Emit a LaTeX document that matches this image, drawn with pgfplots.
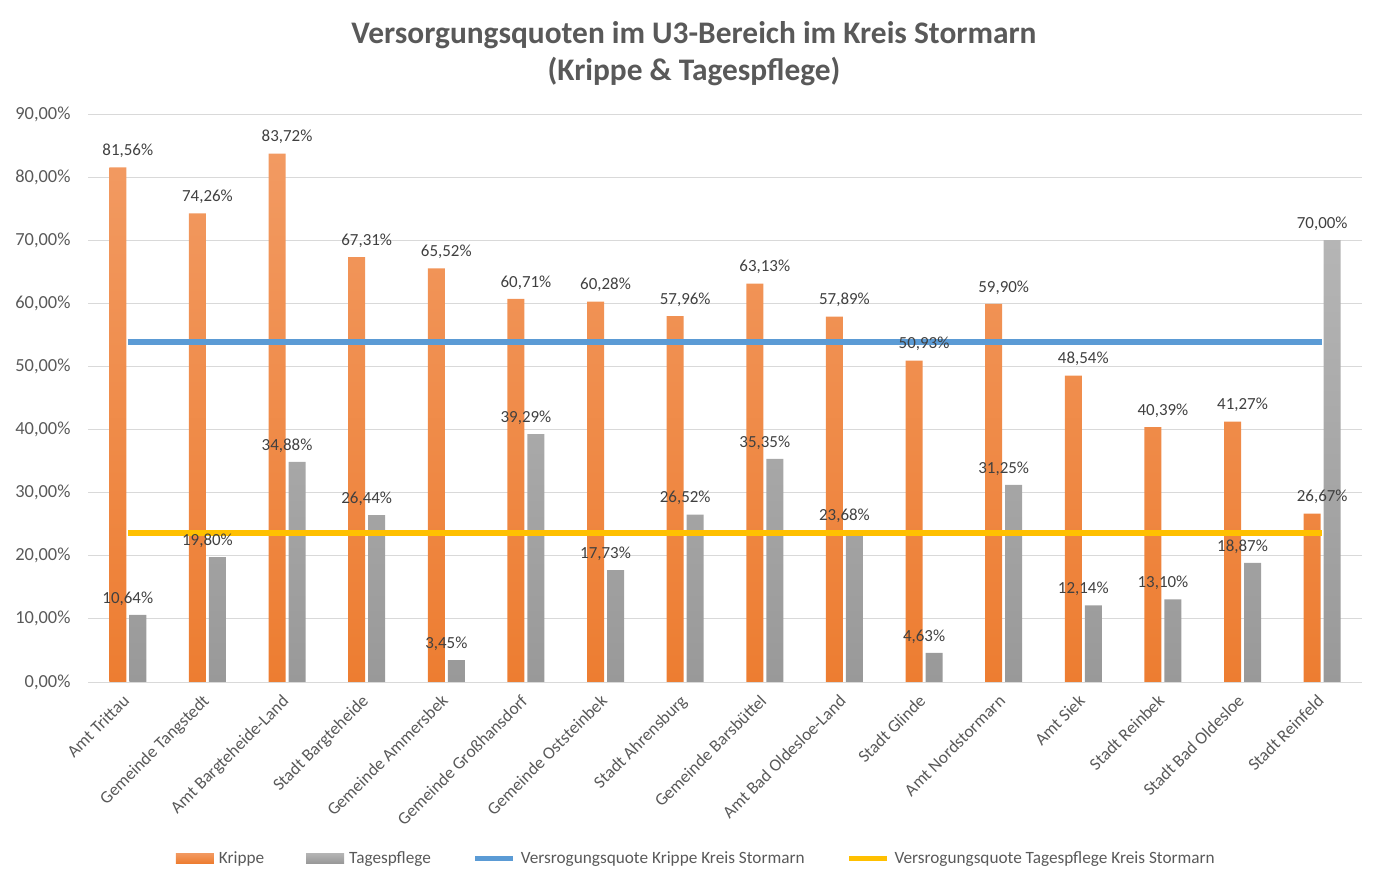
\documentclass[border=0pt]{standalone}
\usepackage{pgfplots}
\pgfplotsset{compat=1.18}
\usepackage{fontspec}
\setmainfont{Carlito}
\definecolor{kOrange}{HTML}{ED7D31}
\definecolor{kOrangeTop}{HTML}{F29A62}
\definecolor{kGray}{HTML}{999999}
\definecolor{kGrayTop}{HTML}{B5B5B5}
\definecolor{kBlue}{HTML}{5B9BD5}
\definecolor{kYellow}{HTML}{FFC000}
\definecolor{txt}{HTML}{595959}
\definecolor{lbl}{HTML}{404040}
\definecolor{gridc}{HTML}{D9D9D9}
\begin{document}
\begin{tikzpicture}
\node[align=center, text=txt, font=\fontsize{31.5}{37}\selectfont\bfseries] at (694bp,826bp)
  {Versorgungsquoten im U3-Bereich im Kreis Stormarn\\(Krippe \& Tagespflege)};
\begin{axis}[
  at={(88bp,198bp)}, anchor=south west,
  scale only axis, width=1274bp, height=568bp,
  xmin=-0.5, xmax=15.5, ymin=0, ymax=90,
  enlargelimits=false,
  axis line style={draw=none},
  major tick length=0pt,
  ytick={0,10,...,90},
  xmajorgrids=false,
  ymajorgrids, grid style={draw=gridc, line width=1bp},
  /pgf/number format/assume math mode=true,
  yticklabel={\pgfmathprintnumber[fixed,fixed zerofill,precision=2,use comma]{\tick}\%},
  yticklabel style={font=\fontsize{18.5}{21}\selectfont, text=txt, xshift=-14bp},
  xtick={0,...,15},
  xticklabels={Amt Trittau, Gemeinde Tangstedt, Amt Bargteheide-Land, Stadt Bargteheide, Gemeinde Ammersbek, Gemeinde Großhansdorf, Gemeinde Oststeinbek, Stadt Ahrensburg, Gemeinde Barsbüttel, Amt Bad Oldesloe-Land, Stadt Glinde, Amt Nordstormarn, Amt Siek, Stadt Reinbek, Stadt Bad Oldesloe, Stadt Reinfeld},
  xticklabel style={xshift=-6bp, yshift=-10bp, rotate=45, anchor=north east, font=\fontsize{17.5}{20}\selectfont, text=txt, inner sep=1bp},
  legend style={at={(0.4775,-0.31)}, anchor=center, draw=none, fill=none, legend columns=4,
    font=\fontsize{17.3}{20}\selectfont, text=txt,
    /tikz/every even column/.append style={column sep=40bp},
    /tikz/every odd column/.append style={column sep=3bp}},
  every node near coord/.append style={font=\fontsize{17}{20}\selectfont, text=lbl, anchor=south, yshift=6bp},
]
\addplot[ybar, bar width=17bp, bar shift=-10bp, draw=none, top color=kOrangeTop, bottom color=kOrange,
  nodes near coords={\pgfmathprintnumber[fixed,fixed zerofill,precision=2,use comma]{\pgfplotspointmeta}\%},
  legend image code/.code={\fill[kOrange] (0bp,-5bp) rectangle (38bp,5bp);}]
coordinates {(0,81.56) (1,74.26) (2,83.72) (3,67.31) (4,65.52) (5,60.71) (6,60.28) (7,57.96) (8,63.13) (9,57.89) (10,50.93) (11,59.90) (12,48.54) (13,40.39) (14,41.27) (15,26.67)};
\addlegendentry{Krippe}
\addplot[ybar, bar width=17bp, bar shift=10bp, draw=none, top color=kGrayTop, bottom color=kGray,
  nodes near coords={\pgfmathprintnumber[fixed,fixed zerofill,precision=2,use comma]{\pgfplotspointmeta}\%},
  legend image code/.code={\fill[kGray] (0bp,-5bp) rectangle (38bp,5bp);}]
coordinates {(0,10.64) (1,19.80) (2,34.88) (3,26.44) (4,3.45) (5,39.29) (6,17.73) (7,26.52) (8,35.35) (9,23.68) (10,4.63) (11,31.25) (12,12.14) (13,13.10) (14,18.87) (15,70.00)};
\addlegendentry{Tagespflege}
\addplot[kBlue, line width=6.5bp, mark=none,
  legend image code/.code={\draw[kBlue, line width=5bp] (0bp,0bp) -- (38bp,0bp);}]
coordinates {(0,53.9) (1,53.9) (2,53.9) (3,53.9) (4,53.9) (5,53.9) (6,53.9) (7,53.9) (8,53.9) (9,53.9) (10,53.9) (11,53.9) (12,53.9) (13,53.9) (14,53.9) (15,53.9)};
\addlegendentry{Versrogungsquote Krippe Kreis Stormarn}
\addplot[kYellow, line width=6.5bp, mark=none,
  legend image code/.code={\draw[kYellow, line width=5bp] (0bp,0bp) -- (38bp,0bp);}]
coordinates {(0,23.6) (1,23.6) (2,23.6) (3,23.6) (4,23.6) (5,23.6) (6,23.6) (7,23.6) (8,23.6) (9,23.6) (10,23.6) (11,23.6) (12,23.6) (13,23.6) (14,23.6) (15,23.6)};
\addlegendentry{Versrogungsquote Tagespflege Kreis Stormarn}
\end{axis}
\pgfresetboundingbox
\path[use as bounding box] (0bp,0bp) rectangle (1376bp,880bp);
\end{tikzpicture}
\end{document}
